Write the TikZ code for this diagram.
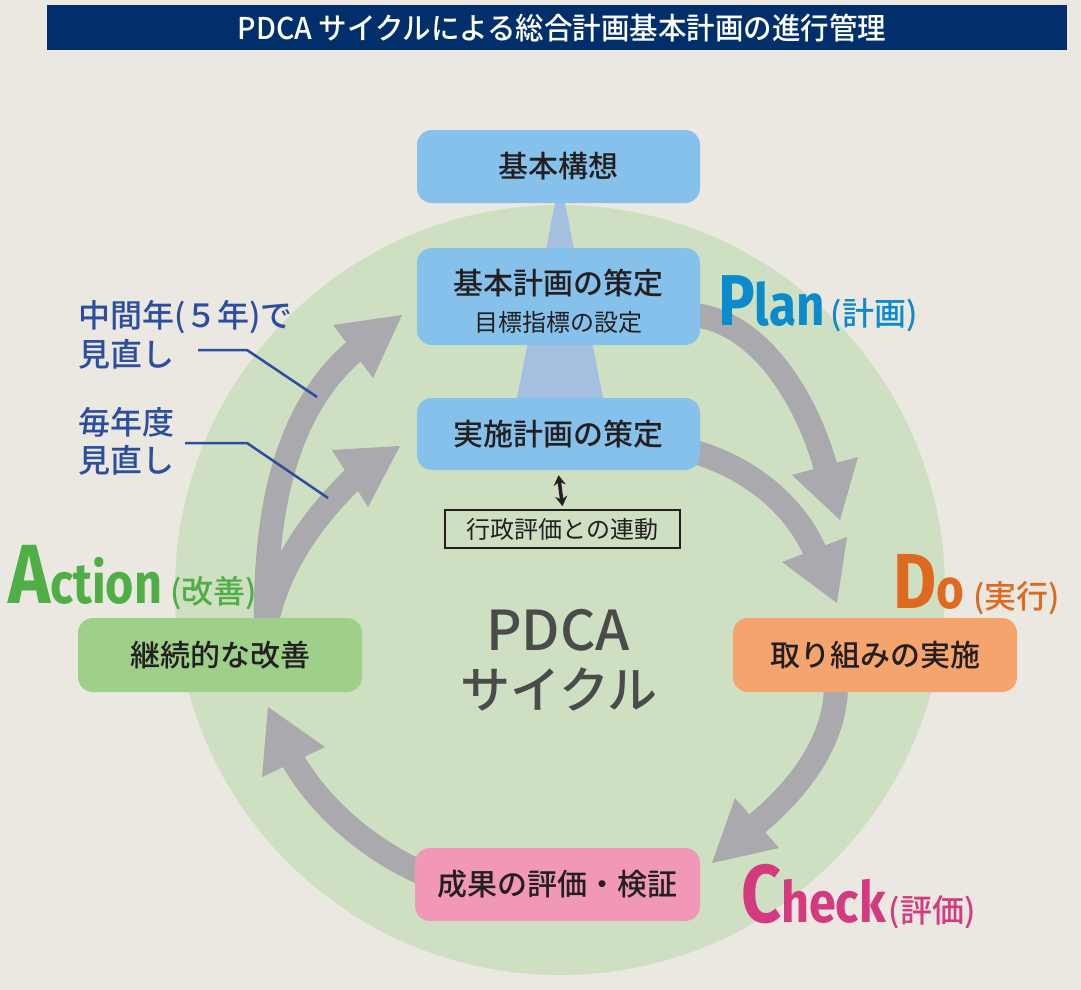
\documentclass[tikz,border=0pt]{standalone}
\usepackage{fontspec}
\usetikzlibrary{arrows.meta}
\newfontfamily\jp{Noto Sans CJK JP}
\newfontfamily\jpm{Noto Sans CJK JP Medium}
\newfontfamily\jpt[FakeStretch=0.95]{Noto Sans CJK JP Medium}
\newfontfamily\lat[FakeStretch=0.85]{Fira Sans}
\definecolor{bg}{HTML}{EBE7E1}
\definecolor{navy}{HTML}{002F6C}
\definecolor{circc}{HTML}{CEDFC2}
\definecolor{bluebx}{HTML}{86C1EB}
\definecolor{taperc}{HTML}{A5BFE0}
\definecolor{arr}{HTML}{A9A9AE}
\definecolor{greenbx}{HTML}{9ED08A}
\definecolor{orangebx}{HTML}{F6A46E}
\definecolor{pinkbx}{HTML}{F198B6}
\definecolor{planc}{HTML}{0B8BCB}
\definecolor{doc}{HTML}{DE6A1F}
\definecolor{checkc}{HTML}{D43A80}
\definecolor{actc}{HTML}{50AE46}
\definecolor{lbl}{HTML}{2C4E9E}
\definecolor{txt}{HTML}{231F20}
\definecolor{pdcac}{HTML}{4B4B4B}
\begin{document}
\begin{tikzpicture}[x=1pt,y=-1pt,
  box/.style={rounded corners=15pt, minimum width=283pt, inner sep=0pt,
    font=\jpm\fontsize{30}{36}\selectfont, text=txt},
  boxtext/.style={inner sep=0pt, font=\jpm\fontsize{30}{36}\selectfont, text=txt},
  shaft/.style={draw=arr, line width=24pt},
  head/.style={fill=arr},
  lbltext/.style={anchor=west, inner sep=0pt, text=lbl, font=\jpm\fontsize{32}{36}\selectfont},
  leader/.style={draw=lbl, line width=2.5pt},
  pdcalbl/.style={anchor=base west, inner sep=0pt}
]
\fill[bg] (0,0) rectangle (1081,990);
\useasboundingbox (0,0) rectangle (1081,990);

% title
\node[fill=navy, minimum width=1020pt, minimum height=45pt, inner sep=0pt] (titlebar) at (557,27.5) {};
\node[text=white, inner sep=0pt, font=\jpt\fontsize{30}{30}\selectfont] (title) at (562,28)
  {PDCA サイクルによる総合計画基本計画の進行管理};

% circle
\fill[circc] (560,590) circle (385pt);

% taper
\fill[taperc] (555,203) -- (565,203) -- (603,398) -- (517,398) -- cycle;

% arrow coordinates
\coordinate (a1s) at (695,315);
\coordinate (a1e) at (828,477);
\coordinate (a2s) at (695,452);
\coordinate (a2e) at (819,561);
\coordinate (a3s) at (836,685);
\coordinate (a3e) at (748,831);
\coordinate (a4s) at (420,872);
\coordinate (a4e) at (288,751);
\coordinate (a5s) at (266,630);
\coordinate (a5e) at (363,344);
\coordinate (a6s) at (266,625);
\coordinate (a6e) at (360,472);

% shafts
\draw[shaft] (a1s) .. controls (770,325) and (815,420) .. (a1e);
\draw[shaft] (a2s) .. controls (755,470) and (800,510) .. (a2e);
\draw[shaft] (a3s) .. controls (836,740) and (800,790) .. (a3e);
\draw[shaft] (a4s) .. controls (370,850) and (315,805) .. (a4e);
\draw[shaft] (a5s) .. controls (264,500) and (290,400) .. (a5e);
\draw[shaft] (a6s) .. controls (280,560) and (318,512) .. (a6e);

% heads
\fill[head] (840,520) -- (792,475) -- (858,457) -- cycle;
\fill[head] (837,603) -- (782,562) -- (847,537) -- cycle;
\fill[head] (712,863) -- (735,798) -- (779,848) -- cycle;
\fill[head] (268,707) -- (262,777) -- (325,747) -- cycle;
\fill[head] (402,315) -- (333,325) -- (373,378) -- cycle;
\fill[head] (400,446) -- (332,450) -- (368,507) -- cycle;

% boxes
\node[box, fill=bluebx, minimum height=73pt] (koso) at (558.5,166.5) {基本構想};
\node[box, fill=bluebx, minimum height=97pt] (keikaku) at (558.5,296.5) {};
\node[boxtext] (keikakuT) at ([yshift=13.5pt]keikaku.center) {基本計画の策定};
\node[inner sep=0pt, text=txt, font=\jp\fontsize{24}{24}\selectfont] (shihyo) at ([yshift=-25.5pt]keikaku.center) {目標指標の設定};
\node[draw=txt, line width=1.5pt, minimum width=235pt, minimum height=38pt, inner sep=0pt,
  text=txt, font=\jp\fontsize{24}{24}\selectfont] (renki) at (562.5,529) {行政評価との連動};
\node[box, fill=bluebx, minimum height=72pt] (jisshi) at (558.5,434) {実施計画の策定};
\draw[line width=3.5pt, txt, {Stealth[length=10pt,width=12pt]}-{Stealth[length=10pt,width=12pt]}]
  ([yshift=-5pt]jisshi.south) -- ([yshift=3pt]renki.north);

\node[box, fill=greenbx, minimum width=284pt, minimum height=74pt] (kaizen) at (220,655) {継続的な改善};
\node[box, fill=orangebx, minimum width=284pt, minimum height=74pt] (torikumi) at (875,655) {取り組みの実施};
\node[box, fill=pinkbx, minimum width=285pt, minimum height=73pt] (hyoka) at (557.5,884.5) {成果の評価・検証};

% centre text
\node[inner sep=0pt, text=pdcac, font=\jpm\fontsize{55}{55}\selectfont] (pdca) at (558,630) {PDCA};
\node[inner sep=0pt, text=pdcac, font=\jpm\fontsize{50}{50}\selectfont] (cycle) at (559,689) {サイクル};

% left labels
\node[lbltext] (l1a) at (78,317) {中間年(５年)で};
\node[lbltext] (l1b) at (78,354) {見直し};
\node[lbltext] (l2a) at (78,422) {毎年度};
\node[lbltext] (l2b) at (78,460) {見直し};
\coordinate (l1s) at (198,350);
\coordinate (l1m) at (247,350);
\coordinate (l1e) at (317,397);
\coordinate (l2s) at (185,443);
\coordinate (l2m) at (247,443);
\coordinate (l2e) at (328,498);
\draw[leader] (l1s) -- (l1m) -- (l1e);
\draw[leader] (l2s) -- (l2m) -- (l2e);

% PDCA labels
\node[pdcalbl, text=planc] (plan) at (718,325)
  {{\lat\bfseries\fontsize{72}{72}\selectfont P\fontsize{58}{58}\selectfont lan}\hspace{6pt}{\jpm\fontsize{32}{32}\selectfont (計画)}};
\node[pdcalbl, text=doc] (do) at (893,608)
  {{\lat\bfseries\fontsize{78}{78}\selectfont D\fontsize{56}{56}\selectfont o}\hspace{9pt}{\jpm\fontsize{32}{32}\selectfont (実行)}};
\node[pdcalbl, text=checkc] (check) at (741,922)
  {{\lat\bfseries\fontsize{82}{82}\selectfont C\fontsize{57}{57}\selectfont heck}\hspace{3pt}{\jpm\fontsize{32}{32}\selectfont (評価)}};
\node[pdcalbl, text=actc] (action) at (8,603)
  {{\lat\bfseries\fontsize{84}{84}\selectfont A\fontsize{57}{57}\selectfont ction}\hspace{8pt}{\jpm\fontsize{32}{32}\selectfont (改善)}};
\end{tikzpicture}
\end{document}
